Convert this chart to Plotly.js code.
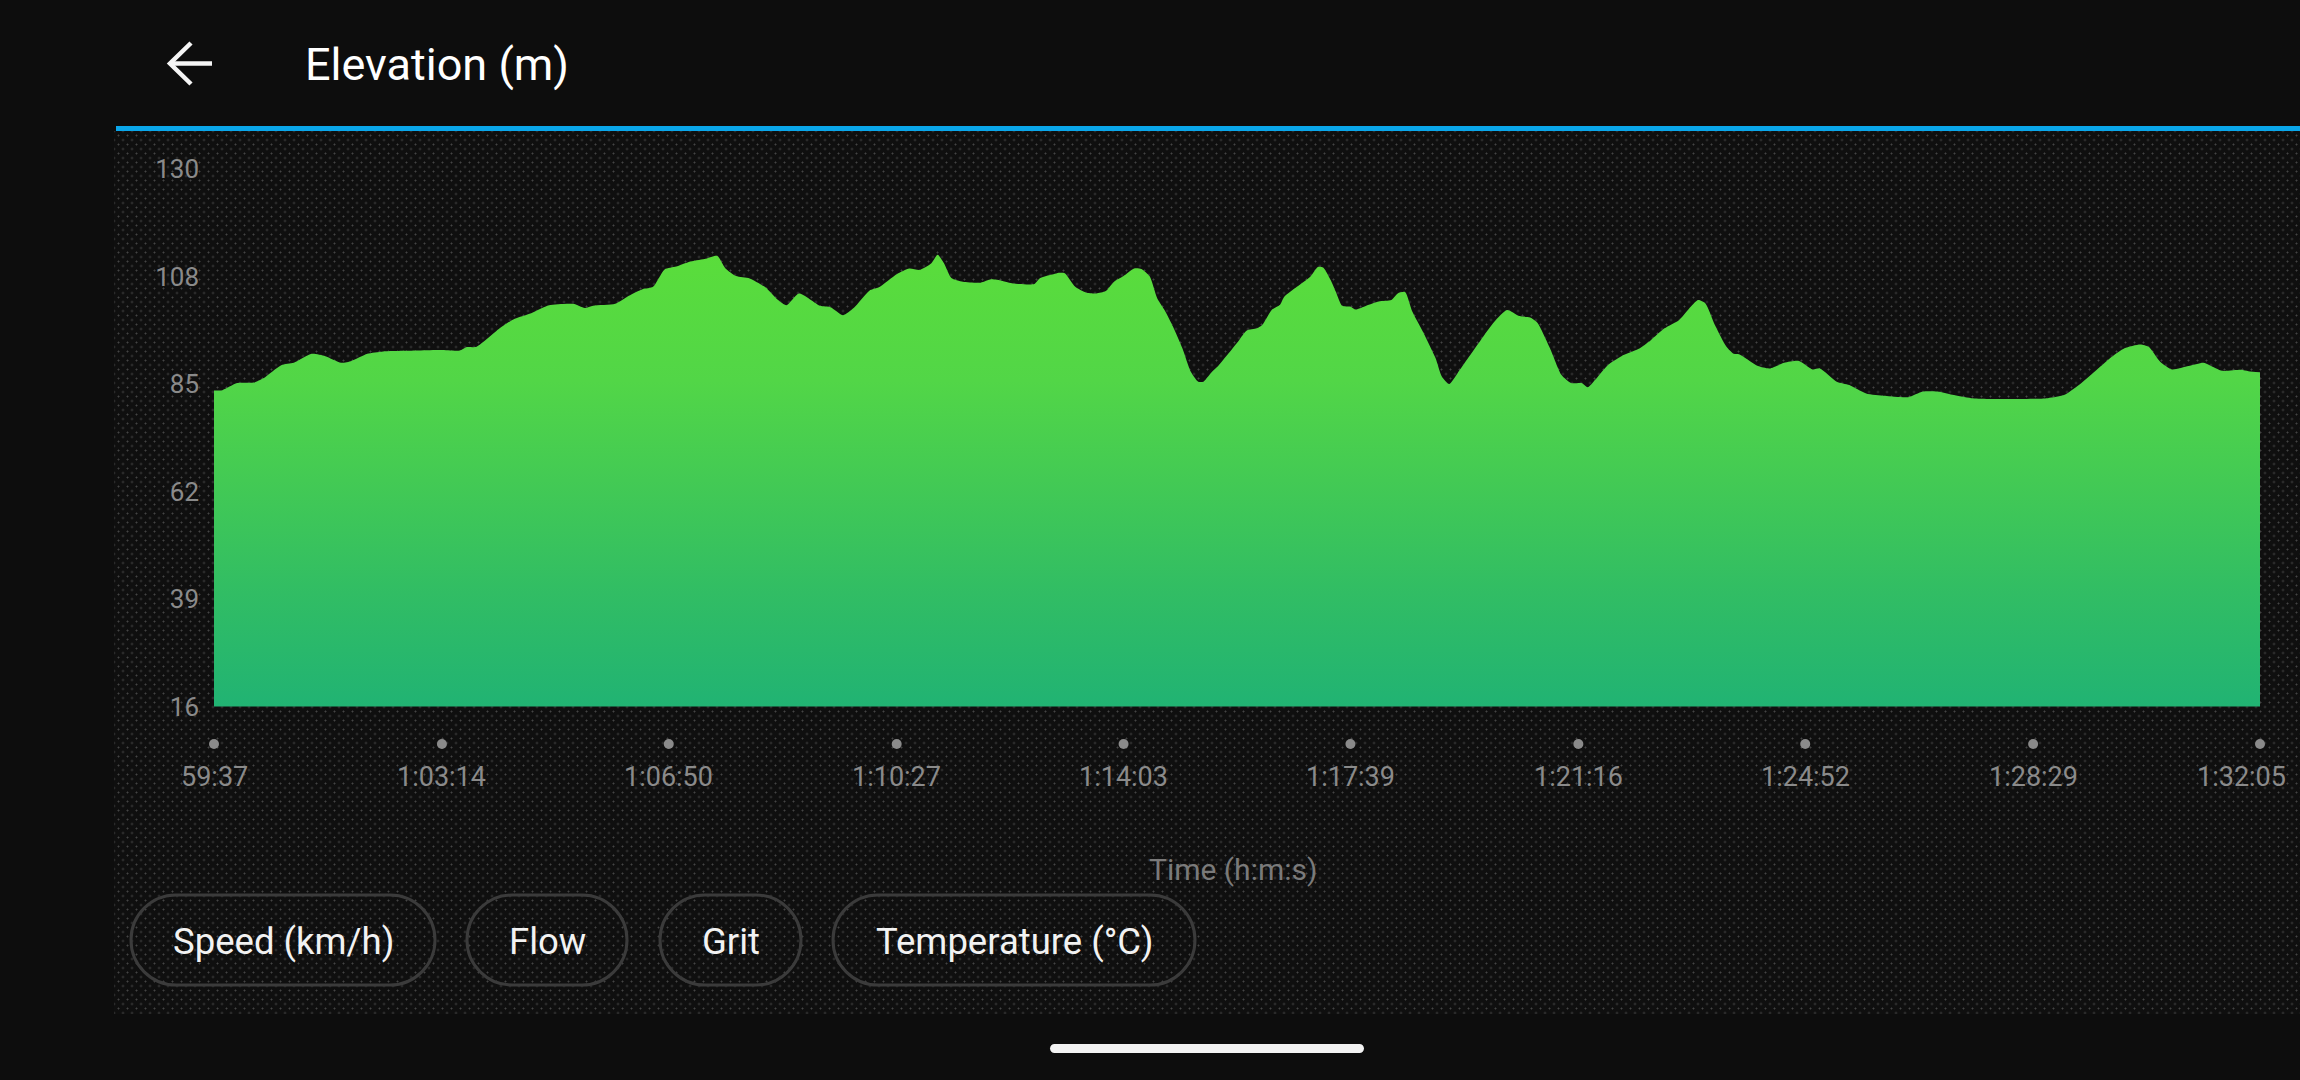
<!DOCTYPE html>
<html>
<head>
<meta charset="utf-8">
<script src="https://cdn.plot.ly/plotly-3.0.1.min.js"></script>
<style>
  html, body { margin: 0; padding: 0; background: #0d0d0d; overflow: hidden; }
  #wrap { position: relative; width: 2300px; height: 1080px; }
  #panel {
    position: absolute; left: 114px; top: 131px; width: 2186px; height: 883px;
    background-color: #0f0f0f;
    background-image:
      radial-gradient(circle, #444444 0.8px, rgba(0,0,0,0) 1.2px),
      radial-gradient(circle, #444444 0.8px, rgba(0,0,0,0) 1.2px);
    background-size: 9px 9px;
    background-position: 0 0, 4.5px 4.5px;
  }
  #chart { position: absolute; left: 0; top: 0; width: 2300px; height: 1080px; }
</style>
</head>
<body>
<div id="wrap">
<div id="panel"></div>
<div id="chart"></div>
</div>
<script>
// ---- data ----
const timeSec = [3577,3585,3599,3615,3624,3641,3653,3670,3683,3698,
  3708,3723,3738,3772,3793,3811,3817,3827,3849,3862,
  3879,3896,3919,3930,3938,3959,3972,3985,3995,4006,
  4017,4029,4044,4056,4064,4074,4087,4102,4114,4122,
  4134,4154,4164,4176,4186,4201,4210,4227,4239,4249,
  4260,4266,4272,4279,4290,4307,4317,4327,4334,4344,
  4358,4363,4373,4382,4387,4397,4407,4417,4426,4434,
  4443,4453,4460,4468,4475,4482,4490,4499,4507,4514,
  4519,4526,4533,4543,4553,4560,4570,4575,4584,4592,
  4596,4608,4621,4628,4633,4640,4645,4651,4659,4664,
  4674,4686,4698,4704,4711,4718,4728,4740,4746,4753,
  4761,4771,4783,4796,4808,4820,4830,4837,4849,4860,
  4869,4879,4885,4892,4904,4917,4933,4945,4958,4972,
  4983,4990,4997,5006,5017,5024,5029,5047,5058,5072,
  5086,5099,5106,5122,5134,5150,5168,5190,5204,5218,
  5232,5250,5286,5323,5339,5355,5373,5384,5396,5411,
  5419,5430,5441,5457,5471,5477,5489,5507,5514,5525];

const elevation = [83.0,83.1,84.6,84.7,85.6,88.4,88.9,90.8,90.3,88.9,
  89.3,90.8,91.3,91.5,91.6,91.5,92.2,92.3,96.2,98.1,
  99.4,101.1,101.4,100.5,101.0,101.4,103.1,104.5,105.0,108.7,
  109.3,110.3,110.9,111.6,108.9,107.3,106.8,104.9,102.2,101.1,
  103.6,101.0,100.7,99.0,100.5,104.2,104.9,107.7,108.9,108.6,
  110.0,111.8,110.0,106.9,106.1,105.9,106.6,106.3,105.9,105.6,
  105.6,106.8,107.5,108.0,107.9,105.0,103.8,103.6,104.1,106.1,
  107.3,108.9,108.8,107.2,102.6,100.1,96.6,92.0,87.0,84.9,
  84.9,86.7,88.2,90.9,93.7,95.7,96.2,96.9,100.1,101.2,
  102.9,105.0,107.2,109.2,109.1,106.5,104.0,101.0,100.8,100.2,
  101.0,101.9,102.2,103.6,103.9,99.7,95.5,89.9,86.0,84.4,
  86.7,89.9,93.7,97.6,100.1,98.8,98.5,97.4,92.0,86.3,
  84.6,84.6,83.7,85.3,88.4,90.3,91.8,93.7,96.2,98.0,
  100.8,102.2,101.5,96.9,92.3,90.8,90.7,88.2,87.7,88.9,
  89.3,87.5,87.7,84.9,84.2,82.4,81.9,81.6,82.8,82.8,
  82.1,81.4,81.2,81.4,82.1,84.6,88.1,90.2,92.0,92.8,
  92.3,89.1,87.5,88.2,88.9,88.4,87.2,87.4,87.1,86.9];

const xTickLabels = ['59:37','1:03:14','1:06:50','1:10:27','1:14:03','1:17:39','1:21:16','1:24:52','1:28:29','1:32:05'];
const yTickLabels = ['16','39','62','85','108','130'];
const yRange = [16, 130];
const chartTitle = 'Elevation (m)';
const xAxisTitle = 'Time (h:m:s)';
const buttonLabels = ['Speed (km/h)', 'Flow', 'Grit', 'Temperature (°C)'];

// ---- layout helpers (pixels -> paper) ----
const W = 2300, H = 1080;
const px = x => x / W;
const py = y => 1 - y / H;
const P = (x, y) => px(x).toFixed(6) + ',' + py(y).toFixed(6);

function stadium(L, T, R, B) {
  const r = (B - T) / 2, k = 0.5523 * r;
  return 'M' + P(L + r, T) + ' L' + P(R - r, T) +
    ' C' + P(R - r + k, T) + ' ' + P(R, T + r - k) + ' ' + P(R, T + r) +
    ' C' + P(R, T + r + k) + ' ' + P(R - r + k, B) + ' ' + P(R - r, B) +
    ' L' + P(L + r, B) +
    ' C' + P(L + r - k, B) + ' ' + P(L, B - r + k) + ' ' + P(L, B - r) +
    ' C' + P(L, B - r - k) + ' ' + P(L + r - k, T) + ' ' + P(L + r, T) + ' Z';
}

const toSec = s => s.split(':').reduce((a, v) => a * 60 + Number(v), 0);
const xTickVals = xTickLabels.map(toSec);
const yTickVals = yTickLabels.map((_, i) => yRange[0] + i * (yRange[1] - yRange[0]) / (yTickLabels.length - 1));

// button boxes (pixels): [left, right]
const buttonBoxes = [[131, 435], [467, 627], [660, 801], [833, 1195]];
const btnTop = 895, btnBottom = 985;

const fontFam = 'Roboto, "Noto Sans", sans-serif';

const traces = [
  {
    type: 'scatter',
    mode: 'lines',
    x: timeSec,
    y: elevation,
    fill: 'tozeroy',
    line: { width: 0, color: '#5add3b', shape: 'spline', smoothing: 0.6 },
    fillgradient: {
      type: 'vertical',
      start: 16,
      stop: 112,
      colorscale: [[0, '#21b373'], [0.25, '#31bd64'], [0.5, '#43ca54'], [0.72, '#52d647'], [1, '#5add3b']]
    },
    hoverinfo: 'skip',
    showlegend: false
  },
  {
    type: 'scatter',
    mode: 'markers',
    x: xTickVals,
    y: xTickVals.map(() => 0.5),
    yaxis: 'y2',
    marker: { size: 10, color: '#8a8a8a' },
    cliponaxis: false,
    hoverinfo: 'skip',
    showlegend: false
  }
];

const shapes = [
  // blue header line
  { type: 'rect', xref: 'paper', yref: 'paper', x0: px(116), x1: px(2300), y0: py(131), y1: py(126),
    fillcolor: '#0aa6ea', line: { width: 0 }, layer: 'above' },
  // back arrow
  { type: 'path', xref: 'paper', yref: 'paper', path: 'M' + P(170, 63.5) + ' L' + P(212, 63.5),
    line: { color: '#f5f5f5', width: 4.5 } },
  { type: 'path', xref: 'paper', yref: 'paper', path: 'M' + P(191, 43) + ' L' + P(170, 63.5) + ' L' + P(191, 84),
    line: { color: '#f5f5f5', width: 4.5 } },
  // bottom nav bar
  { type: 'path', xref: 'paper', yref: 'paper', path: stadium(1050, 1044, 1364, 1053),
    fillcolor: '#f2f2f2', line: { width: 0 } }
];
buttonBoxes.forEach(b => {
  shapes.push({ type: 'path', xref: 'paper', yref: 'paper', path: stadium(b[0], btnTop, b[1], btnBottom),
    fillcolor: 'rgba(0,0,0,0)', line: { color: '#3b3b3b', width: 3 }, layer: 'above' });
});

const annotations = [];
xTickVals.forEach((v, i) => {
  const last = i === xTickVals.length - 1;
  annotations.push({
    x: v, xref: 'x', y: py(777), yref: 'paper',
    text: xTickLabels[i], showarrow: false,
    xanchor: last ? 'right' : 'center', xshift: last ? 28 : 0, yanchor: 'middle',
    font: { family: fontFam, size: 27, color: '#8a8a8a' }
  });
});
annotations.push({
  x: px(1233), xref: 'paper', y: py(869), yref: 'paper', text: xAxisTitle, showarrow: false,
  xanchor: 'center', yanchor: 'middle', font: { family: fontFam, size: 30, color: '#7a7a7a' }
});
buttonLabels.forEach((lab, i) => {
  const b = buttonBoxes[i];
  annotations.push({
    x: px((b[0] + b[1]) / 2), xref: 'paper', y: py(941), yref: 'paper', text: lab, showarrow: false,
    xanchor: 'center', yanchor: 'middle', font: { family: fontFam, size: 36.5, color: '#f2f2f2' }
  });
});

const layout = {
  width: W, height: H,
  margin: { l: 0, r: 0, t: 0, b: 0, pad: 0 },
  paper_bgcolor: 'rgba(0,0,0,0)',
  plot_bgcolor: 'rgba(0,0,0,0)',
  showlegend: false,
  title: {
    text: chartTitle, xref: 'container', yref: 'container',
    x: px(305), xanchor: 'left', y: py(64), yanchor: 'middle',
    font: { family: fontFam, size: 45, color: '#ffffff' }
  },
  xaxis: {
    domain: [px(214), px(2260)], range: [xTickVals[0], xTickVals[xTickVals.length - 1]],
    showgrid: false, zeroline: false, showline: false, ticks: '', showticklabels: false, fixedrange: true
  },
  yaxis: {
    domain: [py(706.5), py(169)], range: yRange,
    tickvals: yTickVals, ticktext: yTickLabels,
    showgrid: false, zeroline: false, showline: false, ticks: '',
    ticklabelstandoff: 14,
    tickfont: { family: fontFam, size: 26, color: '#8a8a8a' }, fixedrange: true
  },
  yaxis2: {
    domain: [py(754), py(734)], range: [0, 1], anchor: 'x', visible: false, fixedrange: true
  },
  shapes: shapes,
  annotations: annotations
};

Plotly.newPlot('chart', traces, layout, { staticPlot: true, displayModeBar: false });
</script>
</body>
</html>
